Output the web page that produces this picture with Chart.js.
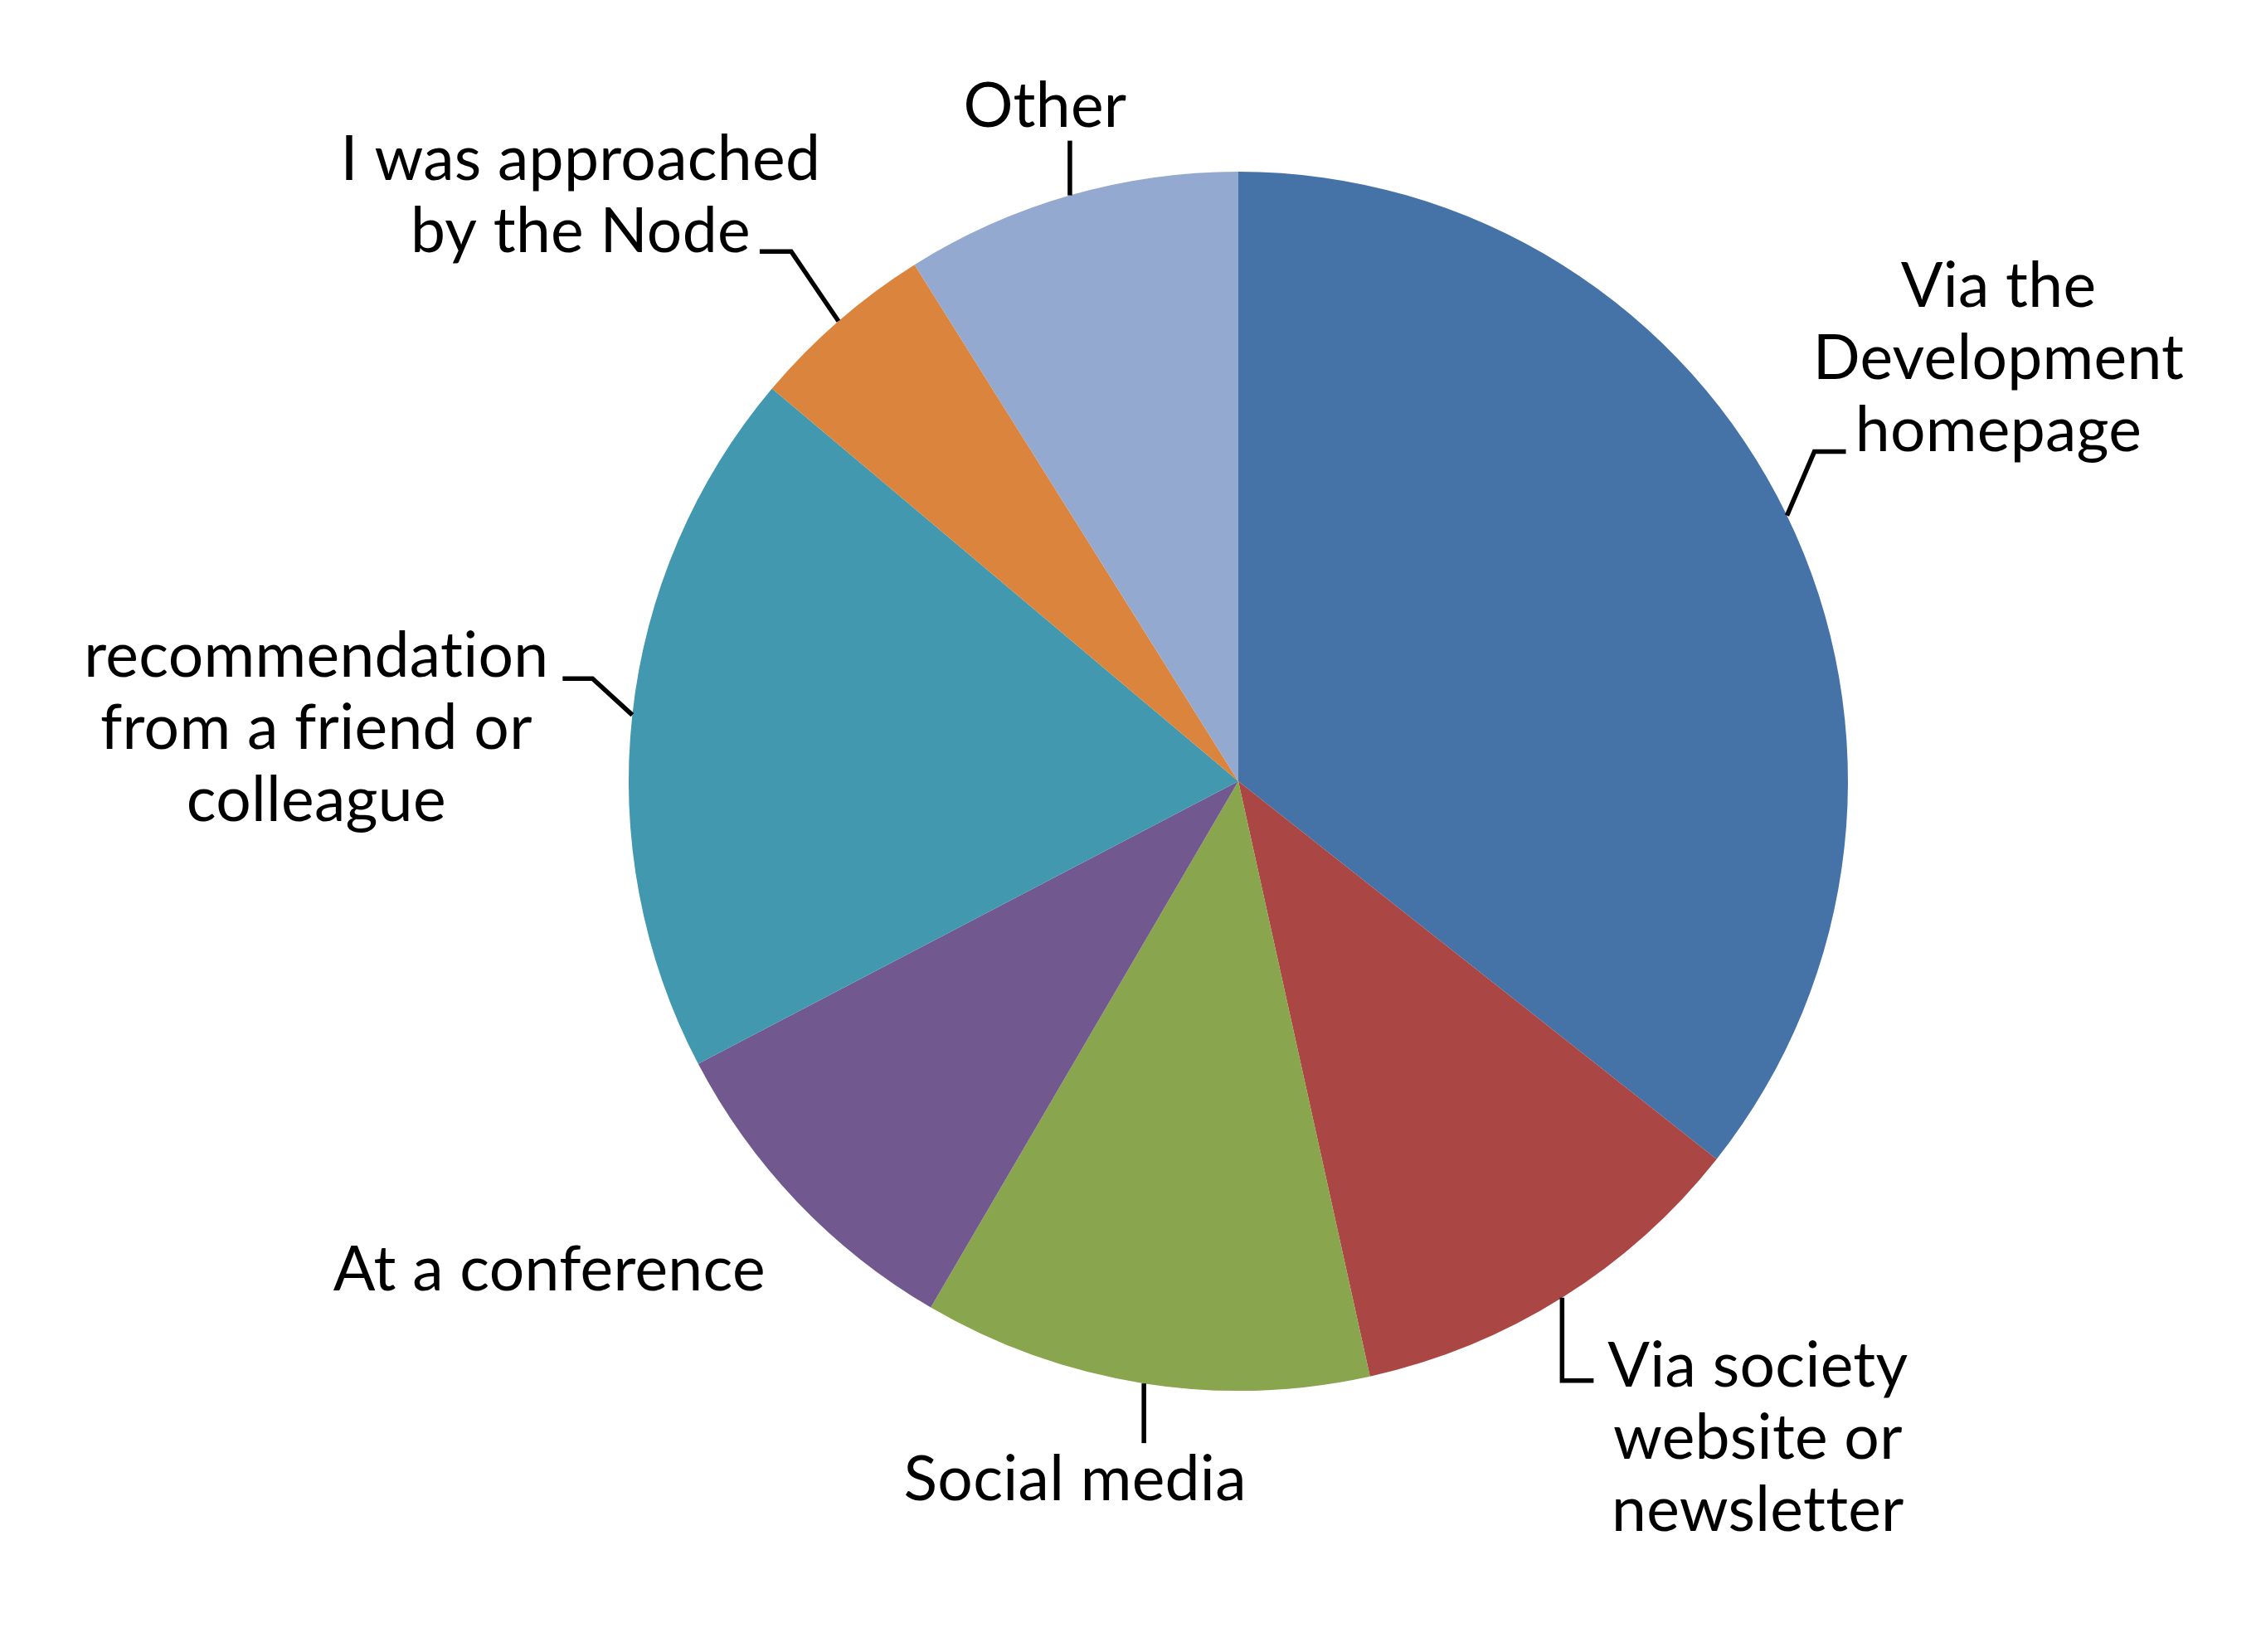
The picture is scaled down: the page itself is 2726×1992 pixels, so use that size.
<!DOCTYPE html>
<html>
<head>
<meta charset="utf-8">
<script src="https://cdn.jsdelivr.net/npm/chart.js@4/dist/chart.umd.min.js"></script>
<style>
  html, body { margin: 0; padding: 0; background: #ffffff; }
  #wrap { width: 2726px; height: 1992px; position: relative; }
  canvas { font-variant-ligatures: none; }
</style>
</head>
<body>
<div id="wrap"><canvas id="c"></canvas></div>
<script>
// ---- data ----
const categories = [
  ['Via the', 'Development', 'homepage'],
  ['Via society', 'website or', 'newsletter'],
  ['Social media'],
  ['At a conference'],
  ['recommendation', 'from a friend or', 'colleague'],
  ['I was approached', 'by the Node'],
  ['Other']
];
const responses = [36, 11, 12, 9, 19, 5, 9];
const sliceColors = ['#4572A7', '#AA4643', '#89A54E', '#71588F', '#4198AF', '#DB843D', '#93A9CF'];

// ---- label layout (offsets from each slice's outer mid-point, px) ----
const labelLayout = [
  { leader: [[33, -77], [71, -77]], dx: 255, dy: -252 },
  { leader: [[0, 100], [38, 100]], dx: 236, dy: 107 },
  { leader: [[0, 72]], dx: -83, dy: 141 },
  { leader: [], dx: -299, dy: 107 },
  { leader: [[-48, -44], [-84, -44]], dx: -381, dy: -46 },
  { leader: [[-57, -84], [-95, -84]], dx: -311, dy: -170 },
  { leader: [[0, -66]], dx: -30, dy: -83 }
];
const FONT = '75px Lato';
const LINE_H = 87;

const labelPlugin = {
  id: 'outsideLabels',
  afterDatasetsDraw(chart) {
    const ctx = chart.ctx;
    const meta = chart.getDatasetMeta(0);
    meta.data.forEach((arc, i) => {
      const p = arc.getProps(['x', 'y', 'startAngle', 'endAngle', 'outerRadius'], true);
      const mid = (p.startAngle + p.endAngle) / 2;
      const ax = p.x + Math.cos(mid) * p.outerRadius;
      const ay = p.y + Math.sin(mid) * p.outerRadius;
      const L = labelLayout[i];
      ctx.save();
      if (L.leader.length) {
        ctx.strokeStyle = '#000000';
        ctx.lineWidth = 5.5;
        ctx.lineJoin = 'miter';
        ctx.beginPath();
        ctx.moveTo(ax, ay);
        L.leader.forEach(pt => ctx.lineTo(ax + pt[0], ay + pt[1]));
        ctx.stroke();
      }
      ctx.fillStyle = '#000000';
      ctx.font = FONT;
      if ('letterSpacing' in ctx) ctx.letterSpacing = '0.3px';
      ctx.textAlign = 'center';
      ctx.textBaseline = 'alphabetic';
      const lines = chart.data.labels[i];
      lines.forEach((t, k) => {
        ctx.fillText(t, ax + L.dx, ay + L.dy + k * LINE_H);
      });
      ctx.restore();
    });
  }
};

new Chart(document.getElementById('c'), {
  type: 'pie',
  data: {
    labels: categories,
    datasets: [{
      data: responses,
      backgroundColor: sliceColors,
      borderWidth: 0
    }]
  },
  options: {
    responsive: true,
    maintainAspectRatio: false,
    animation: false,
    layout: { padding: { left: 758, right: 498, top: 207, bottom: 315 } },
    plugins: {
      legend: { display: false },
      tooltip: { enabled: false }
    }
  },
  plugins: [labelPlugin]
});
</script>
</body>
</html>
